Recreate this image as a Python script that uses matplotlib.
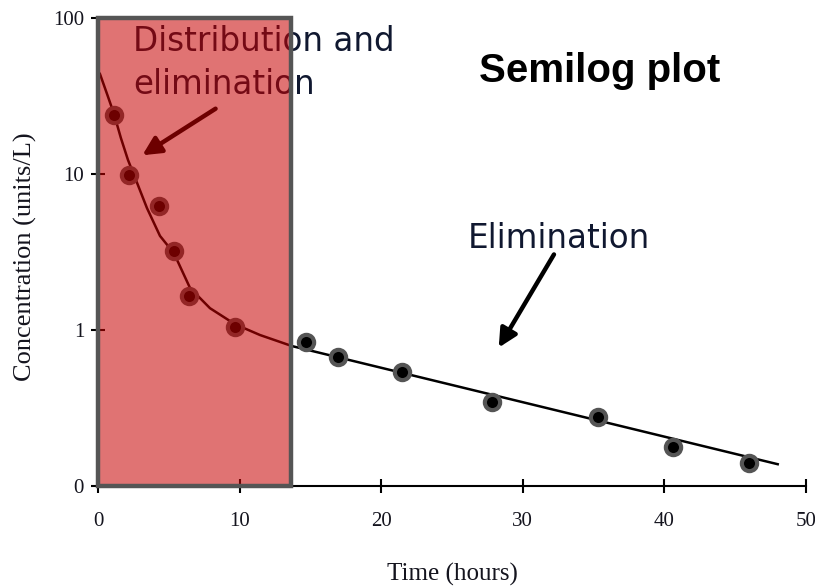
import numpy as np
import matplotlib.pyplot as plt
from matplotlib.patches import Rectangle

# -----------------------------
# Data
# -----------------------------
time_h = [1.13, 2.17, 4.31, 5.37, 6.45, 9.67, 14.7, 16.95, 21.5, 27.8, 35.3, 40.6, 46.0]
conc = [23.9, 9.89, 6.24, 3.21, 1.65, 1.045, 0.838, 0.671, 0.538, 0.345, 0.277, 0.178, 0.140]

# fitted curve (distribution + elimination, then straight elimination line)
fit_t = [0.14, 0.64, 1.13, 1.62, 2.12, 2.68, 3.46, 4.38, 5.37, 6.50, 7.91, 9.67, 11.44, 13.70, 48.0]
fit_c = [43.8, 32.6, 24.3, 17.0, 12.3, 9.16, 6.05, 4.01, 3.10, 1.86, 1.38, 1.09, 0.929, 0.789, 0.138]

x_ticks = [0, 10, 20, 30, 40, 50]
y_ticks = [0.1, 1, 10, 100]
y_tick_labels = ["0", "1", "10", "100"]

shade_end = 13.6  # end of distribution phase box

# -----------------------------
# Plot
# -----------------------------
fig = plt.figure(figsize=(8.15, 5.86), dpi=100)
ax = fig.add_axes([0.1202, 0.1706, 0.8688, 0.7987])

ax.plot(fit_t, fit_c, color="black", lw=1.8, zorder=3)
ax.plot(time_h, conc, "o", ms=11, mfc="black", mec="#555555", mew=3.0, zorder=4)

ax.set_yscale("log")
ax.set_xlim(0, 50)
ax.set_ylim(0.1, 100)
ax.set_xticks(x_ticks)
ax.set_yticks(y_ticks)
ax.set_yticklabels(y_tick_labels)
ax.minorticks_off()

for s in ["top", "right"]:
    ax.spines[s].set_visible(False)
for s in ["left", "bottom"]:
    ax.spines[s].set_linewidth(1.5)

serif = ["Liberation Serif", "DejaVu Serif"]
lab_col = "#14141e"
ax.tick_params(direction="inout", length=10, width=1.5, colors="black")
ax.tick_params(axis="x", pad=14)
ax.tick_params(axis="y", pad=5)
for lab in ax.get_xticklabels() + ax.get_yticklabels():
    lab.set_family(serif)
    lab.set_fontsize(15)
    lab.set_color(lab_col)

ax.set_xlabel("Time (hours)", family=serif, fontsize=18, color=lab_col, va="center")
ax.xaxis.set_label_coords(0.5, -0.188)
ax.set_ylabel("Concentration (units/L)", family=serif, fontsize=19, color=lab_col, va="center")
ax.yaxis.set_label_coords(-0.103, 0.489)

# -----------------------------
# Annotations
# -----------------------------
txt_col = "#101830"
ax.text(2.47, 90, "Distribution and\nelimination", fontsize=23.5, color=txt_col,
        va="top", ha="left", linespacing=1.39, zorder=3)
ax.annotate("", xy=(2.97, 12.9), xytext=(8.47, 26.8),
            arrowprops=dict(arrowstyle="-|>,head_length=1.1,head_width=0.55",
                            color="black", lw=3.2), zorder=3)

ax.text(26.1, 3.36, "Elimination", fontsize=23.5, color=txt_col, va="baseline", ha="left")
ax.annotate("", xy=(28.2, 0.745), xytext=(32.3, 3.16),
            arrowprops=dict(arrowstyle="-|>,head_length=1.1,head_width=0.55",
                            color="black", lw=3.2))

ax.text(35.45, 38.9, "Semilog plot", fontsize=29, fontweight="bold",
        family=["Liberation Sans", "DejaVu Sans"], color="black", ha="center", va="baseline")

# red box over the distribution phase
ax.add_patch(Rectangle((0, 0.1), shade_end, 100 - 0.1, facecolor=(0.78, 0, 0),
                       alpha=0.55, edgecolor="none", zorder=5, clip_on=False))
ax.add_patch(Rectangle((0, 0.1), shade_end, 100 - 0.1, facecolor="none",
                       edgecolor="#555555", lw=3.2, zorder=6, clip_on=False))

fig.savefig("out.png", dpi=100)
